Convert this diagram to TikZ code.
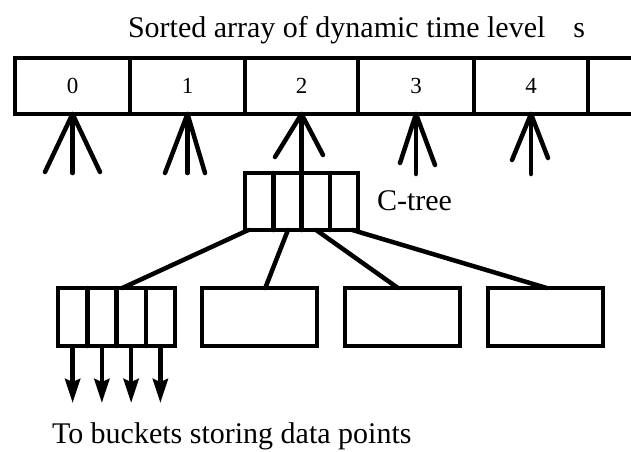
\documentclass[tikz,border=0pt]{standalone}
\usepackage{fontspec}
\setmainfont{Liberation Serif}
\usetikzlibrary{arrows.meta,calc}
\begin{document}
\begin{tikzpicture}[x=1pt,y=-1pt,
  every node/.style={inner sep=0pt, outer sep=0pt},
  ln/.style={line width=4.5pt, line cap=round, line join=round},
  cell/.style={draw, line width=4.5pt, minimum width=115pt, minimum height=56pt, font=\fontsize{23}{26}\selectfont},
  box/.style={draw, line width=4.5pt, minimum width=116pt, minimum height=58pt},
  txt/.style={font=\fontsize{30}{36}\selectfont, anchor=base west},
  arr/.style={line width=4.5pt, -{Stealth[length=24pt, width=15pt, inset=3pt]}}]
\path[use as bounding box, clip] (0,0) rectangle (631,451);

% title
\node[txt] (title) at (128,37) {Sorted array of dynamic time level\hspace{28pt}s};

% sorted array
\node[cell, minimum width=115pt] (c0) at (72.5,86) {0};
\node[cell, minimum width=115pt] (c1) at (187.5,86) {1};
\node[cell, minimum width=113pt] (c2) at (301.5,86) {2};
\node[cell, minimum width=116pt] (c3) at (416,86) {3};
\node[cell, minimum width=114pt] (c4) at (531,86) {4};
\coordinate (c5ne) at (640,58);
\coordinate (c5se) at (640,114);
\draw[ln] (c4.north east) -- (c5ne);
\draw[ln] (c4.south east) -- (c5se);

% C-tree
\node[box, minimum width=113pt, minimum height=57pt] (ct) at (301.5,201.5) {};
\foreach \f in {0.25,0.5,0.75}
  \draw[ln] ($(ct.north west)!\f!(ct.north east)$) -- ($(ct.south west)!\f!(ct.south east)$);
\node[txt] (ctl) at (377,210) {C-tree};

% fans
\coordinate (f0s) at (72.5,173); \coordinate (f0l) at (45,172); \coordinate (f0r) at (100,172);
\coordinate (f1s) at (187.5,173); \coordinate (f1l) at (165,173); \coordinate (f1r) at (205,173);
\coordinate (f2l) at (275,157); \coordinate (f2r) at (323,155);
\coordinate (f3s) at (416,174); \coordinate (f3l) at (400,163); \coordinate (f3r) at (435,165);
\coordinate (f4s) at (531,174); \coordinate (f4l) at (512,160); \coordinate (f4r) at (548,158);
\draw[ln] (c0.south) -- (f0s); \draw[ln] (f0l) -- (c0.south) -- (f0r);
\draw[ln] (c1.south) -- (f1s); \draw[ln] (f1l) -- (c1.south) -- (f1r);
\draw[ln] (c2.south) -- (ct.north); \draw[ln] (f2l) -- (c2.south) -- (f2r);
\draw[ln] (c3.south) -- (f3s); \draw[ln] (f3l) -- (c3.south) -- (f3r);
\draw[ln] (c4.south) -- (f4s); \draw[ln] (f4l) -- (c4.south) -- (f4r);

% bottom boxes
\node[box, minimum width=117pt] (b1) at (116.5,317) {};
\node[box, minimum width=115pt] (b2) at (259.5,317) {};
\node[box, minimum width=115pt] (b3) at (402.5,317) {};
\node[box, minimum width=115pt] (b4) at (545.5,317) {};
\foreach \f in {0.25,0.5,0.75}
  \draw[ln] ($(b1.north west)!\f!(b1.north east)$) -- ($(b1.south west)!\f!(b1.south east)$);

% C-tree to children
\draw[ln] ($(ct.south west)!0.03!(ct.south east)$) -- ($(b1.north west)!0.55!(b1.north east)$);
\draw[ln] ($(ct.south west)!0.38!(ct.south east)$) -- ($(b2.north west)!0.55!(b2.north east)$);
\draw[ln] ($(ct.south west)!0.63!(ct.south east)$) -- ($(b3.north west)!0.46!(b3.north east)$);
\draw[ln] ($(ct.south west)!0.95!(ct.south east)$) -- ($(b4.north west)!0.51!(b4.north east)$);

% arrows to buckets
\foreach \f/\n in {0.125/1,0.375/2,0.625/3,0.875/4} {
  \coordinate (as\n) at ($(b1.south west)!\f!(b1.south east)$);
  \coordinate (ae\n) at ($(as\n)+(0,57)$);
  \draw[arr] (as\n) -- (ae\n);
}

\node[txt] (bt) at (52,443) {To buckets storing data points};
\end{tikzpicture}
\end{document}
